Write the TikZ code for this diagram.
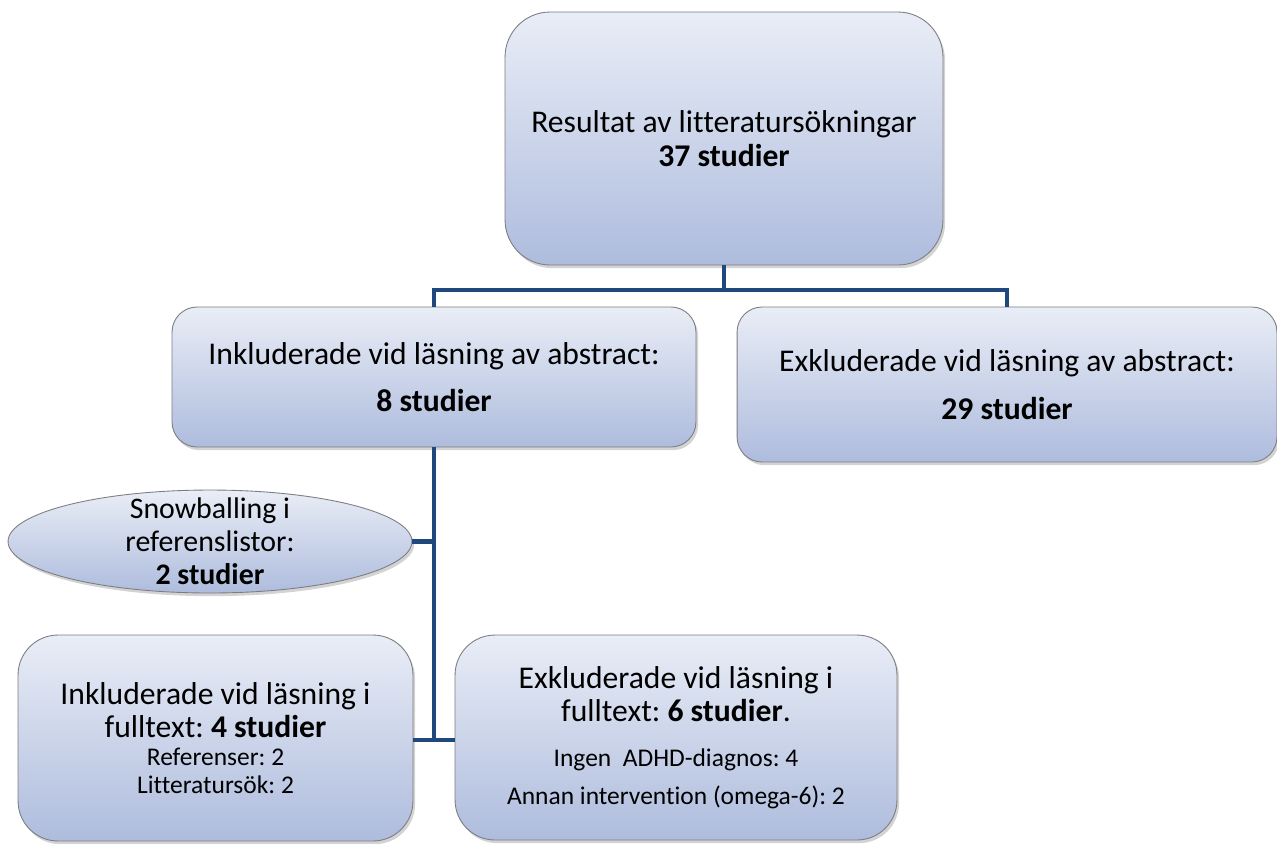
\documentclass[tikz,border=0pt]{standalone}
\usepackage{fontspec}
\setmainfont[Ligatures=NoCommon]{Carlito}
\usetikzlibrary{positioning,shapes.geometric,shadows}

\definecolor{boxtop}{RGB}{233,237,246}
\definecolor{boxbot}{RGB}{174,188,221}
\definecolor{boxline}{RGB}{125,125,130}
\definecolor{linkblue}{RGB}{31,73,125}
\newcommand{\smalltext}{\fontsize{14.5}{16.5}\selectfont}

\begin{document}
\frenchspacing
\begin{tikzpicture}[x=0.02cm,y=-0.02cm,
  box/.style={draw=boxline,line width=0.5pt,top color=boxtop,bottom color=boxbot,
    rounded corners=0.5cm,align=center,inner sep=0pt,
    font=\fontsize{18}{19}\selectfont,
    drop shadow={shadow xshift=1.2pt,shadow yshift=-1.8pt,opacity=0.35}},
  link/.style={draw=linkblue,line width=2.3pt}]
  \useasboundingbox (0,0) rectangle (1277,843);
  % search result
  \node[box,rounded corners=0.9cm,minimum width=8.76cm,minimum height=5.06cm] (res) at (724,138.5)
    {Resultat av litteratursökningar\\\textbf{37 studier}};
  % abstract screening
  \node[box,minimum width=10.48cm,minimum height=2.8cm] (incl) at (434,377)
    {Inkluderade vid läsning av abstract:\\[8pt]\textbf{8 studier}};
  \node[box,minimum width=10.8cm,minimum height=3.1cm] (excl) at (1007,384.5)
    {Exkluderade vid läsning av abstract:\\[8pt]\textbf{29 studier}};
  % snowballing
  \node[box,ellipse,minimum width=8.08cm,minimum height=2.06cm,
    label={[align=center,font=\fontsize{17}{18.7}\selectfont]center:Snowballing i\\referenslistor:\\\textbf{2 studier}}] (snow) at (210,541.5) {};
  % full text reading
  \node[box,rounded corners=0.8cm,minimum width=7.9cm,minimum height=4.12cm] (fullin) at (215.5,738)
    {Inkluderade vid läsning i\\fulltext: \textbf{4 studier}\\[-3pt]
     {\smalltext Referenser: 2}\\[-3pt]
     {\smalltext Litteratursök: 2}};
  \node[box,rounded corners=0.8cm,minimum width=8.84cm,minimum height=4.1cm] (fullex) at (676,737.5)
    {Exkluderade vid läsning i\\fulltext: \textbf{6 studier}.\\[6.5pt]
     {\smalltext Ingen\ \ ADHD-diagnos: 4}\\[2.5pt]
     {\smalltext Annan intervention (omega-6): 2}};
  % connectors
  \coordinate (split) at (724,290);
  \coordinate (join) at (434,740);
  \draw[link] (res.south) -- (split) -| (incl.north);
  \draw[link] (split) -| (excl.north);
  \draw[link] (incl.south) -- (join);
  \draw[link] (snow.east) -- (snow.east -| join);
  \draw[link] (fullin.east |- join) -- (fullex.west |- join);
\end{tikzpicture}
\end{document}
